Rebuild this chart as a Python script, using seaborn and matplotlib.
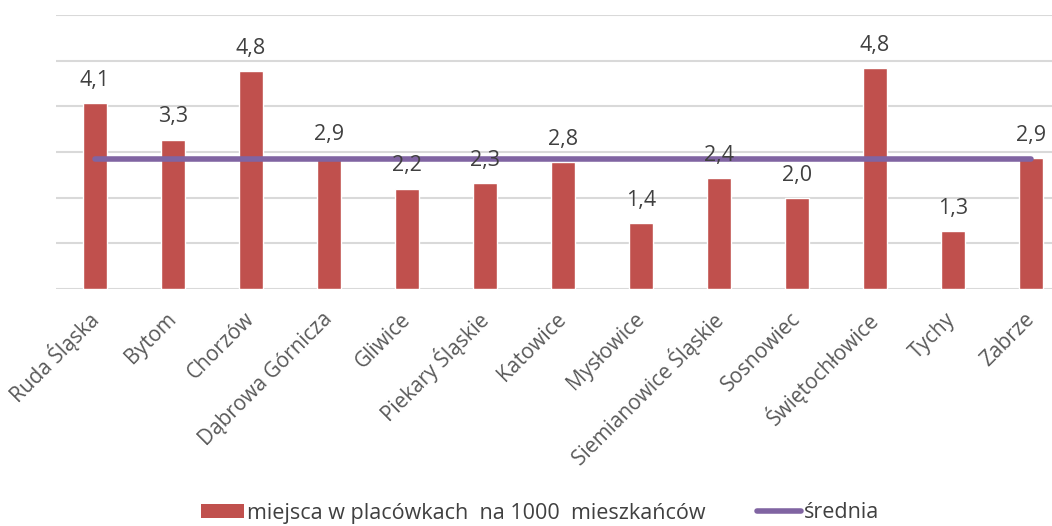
import matplotlib
matplotlib.use("Agg")
import matplotlib.pyplot as plt
import seaborn as sns
import pandas as pd
from matplotlib.patches import Patch
from matplotlib.lines import Line2D

# dane
miasta = ['Ruda Śląska', 'Bytom', 'Chorzów', 'Dąbrowa Górnicza', 'Gliwice',
          'Piekary Śląskie', 'Katowice', 'Mysłowice', 'Siemianowice Śląskie',
          'Sosnowiec', 'Świętochłowice', 'Tychy', 'Zabrze']
miejsca = [4.07, 3.27, 4.77, 2.87, 2.19, 2.32, 2.78, 1.44, 2.43, 1.99, 4.83, 1.26, 2.86]
srednia = 2.85

df = pd.DataFrame({'miasto': miasta, 'miejsca': miejsca})

sns.set_style('white')
plt.rcParams['font.family'] = ['Open Sans', 'DejaVu Sans']

bar_color = '#C0504D'
line_color = '#8064A2'
grid_color = '#D9D9D9'

fig = plt.figure(figsize=(10.52, 5.26), dpi=100)
ax = fig.add_axes([56 / 1052, 237 / 526, 1014 / 1052, 274 / 526])

sns.barplot(data=df, x='miasto', y='miejsca', color=bar_color, width=0.32,
            saturation=1, ax=ax, zorder=2)

# linia średniej
ax.plot(range(len(miasta)), [srednia] * len(miasta), color=line_color, lw=4,
        solid_capstyle='round', zorder=3)

# etykiety wartości
etykiety = [f"{v:.1f}".replace('.', ',') for v in miejsca]
ax.bar_label(ax.containers[0], labels=etykiety, padding=9, fontsize=15.5,
             color='#404040')

ax.set_ylim(0, 6)
ax.set_xlim(-0.5, len(miasta) - 0.5)
ax.set_yticks(range(7))
ax.yaxis.grid(True, color=grid_color, lw=1.5, zorder=0)
ax.set_axisbelow(True)
ax.tick_params(axis='y', left=False, labelleft=False)
ax.tick_params(axis='x', bottom=False, pad=16, labelsize=15, labelcolor='#595959')
plt.setp(ax.get_xticklabels(), rotation=45, ha='right', va='center',
         rotation_mode='anchor')
for s in ax.spines.values():
    s.set_visible(False)
ax.set_xlabel('')
ax.set_ylabel('')

handles = [Patch(facecolor=bar_color, edgecolor='none'),
           Line2D([0], [0], color=line_color, lw=4, solid_capstyle='round')]
fig.legend(handles, ['miejsca w placówkach  na 1000  mieszkańców', 'średnia'],
           loc='center', bbox_to_anchor=(540 / 1052, 1 - 513 / 526), ncol=2,
           frameon=False, fontsize=15.5, labelcolor='#404040', handlelength=2.0,
           handleheight=0.6, handletextpad=0.15, columnspacing=2.4)

fig.savefig('out.png', dpi=100)
